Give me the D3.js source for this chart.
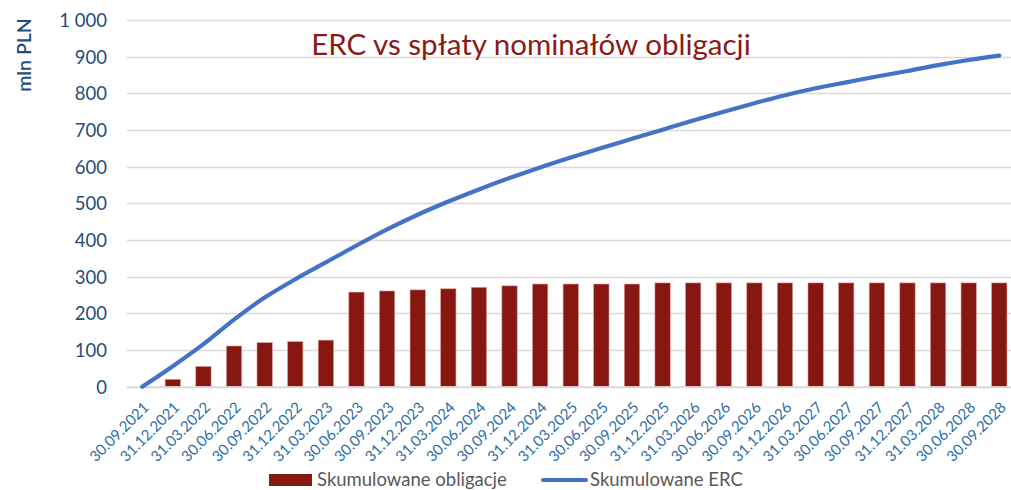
<!DOCTYPE html>
<html>
<head>
<meta charset="utf-8">
<script src="https://cdn.jsdelivr.net/npm/d3@7"></script>
<style>
  body { margin: 0; background: #fff; }
  text { font-family: Lato, "Open Sans", sans-serif; }
</style>
</head>
<body>
<div id="canvas"></div>
<script>
const canvas = d3.select("#canvas");

// dates (quarter ends)
const dates = ["30.09.2021", "31.12.2021", "31.03.2022", "30.06.2022", "30.09.2022", "31.12.2022",
    "31.03.2023", "30.06.2023", "30.09.2023", "31.12.2023", "31.03.2024", "30.06.2024", "30.09.2024",
    "31.12.2024", "31.03.2025", "30.06.2025", "30.09.2025", "31.12.2025", "31.03.2026", "30.06.2026",
    "30.09.2026", "31.12.2026", "31.03.2027", "30.06.2027", "30.09.2027", "31.12.2027", "31.03.2028",
    "30.06.2028", "30.09.2028"];

// mln PLN
const bonds = [0, 20, 55, 111, 120, 123, 127, 258, 261, 264, 267, 271, 275, 280, 280, 280, 280,
    283, 283, 283, 283, 283, 283, 283, 283, 283, 283, 283, 283];
const erc = [0, 56, 116, 183, 243, 293, 339, 385, 429, 469, 505, 538, 569, 598, 625, 651, 676,
    701, 726, 750, 773, 795, 814, 830, 846, 861, 877, 891, 903];

const yTicks = [0, 100, 200, 300, 400, 500, 600, 700, 800, 900, 1000];

const title = "ERC vs spłaty nominałów obligacji";
const yTitle = "mln PLN";
const legendNames = ["Skumulowane obligacje", "Skumulowane ERC"];

const width = 1011;
const height = 490;
const margin = { top: 20, left: 127, bottom: 103, right: 0 };

const barColor = "#861811";
const lineColor = "#4472c4";
const axisTextColor = "#1f4e79";

const svg = canvas.append("svg")
    .attr("width", width)
    .attr("height", height);

const y = d3.scaleLinear()
    .domain([0, 1000])
    .range([height - margin.bottom - 0.3, margin.top]);

const x = d3.scaleBand()
    .domain(dates)
    .range([126.9, 1014.6])
    .paddingInner(0.5)
    .paddingOuter(0.25);

const pl = d3.formatLocale({ decimal: ",", thousands: "\u00a0", grouping: [3], currency: ["", ""] });

// gridlines
svg.append("g")
    .selectAll("line")
    .data(yTicks.filter(d => d > 0))
    .enter().append("line")
    .attr("x1", margin.left)
    .attr("x2", width)
    .attr("y1", d => Math.round(y(d)) + 0.5)
    .attr("y2", d => Math.round(y(d)) + 0.5)
    .attr("stroke", "#d9d9d9")
    .attr("stroke-width", 1.3);

// y axis labels
const yAxis = svg.append("g")
    .attr("transform", `translate(${margin.left},0)`)
    .call(d3.axisLeft(y).tickValues(yTicks).tickSize(0).tickPadding(20).tickFormat(pl.format(",d")));
yAxis.select(".domain").remove();
yAxis.selectAll("text")
    .attr("fill", axisTextColor)
    .style("font-size", "18.5px")
    .attr("dy", "0.35em");

// bars
svg.append("g")
    .selectAll("rect")
    .data(bonds)
    .enter().append("rect")
    .attr("x", (d, i) => x(dates[i]))
    .attr("y", d => y(d))
    .attr("width", x.bandwidth())
    .attr("height", d => y(0) - y(d))
    .attr("fill", barColor)
    .attr("stroke", "#d89a96")
    .attr("stroke-width", 0.6);

// zero line
svg.append("line")
    .attr("x1", margin.left)
    .attr("x2", width)
    .attr("y1", y(0) + 0.5)
    .attr("y2", y(0) + 0.5)
    .attr("stroke", "#d9d9d9")
    .attr("stroke-width", 2);

// x axis labels
const xAxis = svg.append("g")
    .attr("transform", `translate(0,${y(0)})`)
    .call(d3.axisBottom(x).tickSize(0).tickPadding(0));
xAxis.select(".domain").remove();
xAxis.selectAll("text")
    .attr("fill", "#2e6da4")
    .style("font-size", "15px")
    .attr("text-anchor", "end")
    .attr("dy", "0.35em")
    .attr("transform", "translate(4,18) rotate(-45)");

// ERC line
const line = d3.line()
    .x((d, i) => x(dates[i]) + x.bandwidth() / 2)
    .y(d => y(d))
    .curve(d3.curveMonotoneX);

svg.append("path")
    .datum(erc)
    .attr("d", line)
    .attr("fill", "none")
    .attr("stroke", lineColor)
    .attr("stroke-width", 4.2)
    .attr("stroke-linecap", "round")
    .attr("stroke-linejoin", "round");

// title
svg.append("text")
    .attr("x", 531)
    .attr("y", 55)
    .attr("text-anchor", "middle")
    .attr("fill", "#8b1a14")
    .style("font-size", "29.5px")
    .text(title);

// y title
svg.append("text")
    .attr("transform", "translate(31,55) rotate(-90)")
    .attr("text-anchor", "middle")
    .attr("fill", axisTextColor)
    .style("font-size", "19.5px")
    .style("font-weight", "600")
    .text(yTitle);

// legend
const legend = svg.append("g");
legend.append("rect")
    .attr("x", 269)
    .attr("y", 474)
    .attr("width", 43)
    .attr("height", 12)
    .attr("fill", barColor);
legend.append("text")
    .attr("x", 317)
    .attr("y", 486)
    .attr("fill", "#595959")
    .style("font-size", "18.5px")
    .text(legendNames[0]);
legend.append("line")
    .attr("x1", 543)
    .attr("x2", 586)
    .attr("y1", 480)
    .attr("y2", 480)
    .attr("stroke", lineColor)
    .attr("stroke-width", 4.2)
    .attr("stroke-linecap", "round");
legend.append("text")
    .attr("x", 590)
    .attr("y", 486)
    .attr("fill", "#595959")
    .style("font-size", "18.5px")
    .text(legendNames[1]);
</script>
</body>
</html>
